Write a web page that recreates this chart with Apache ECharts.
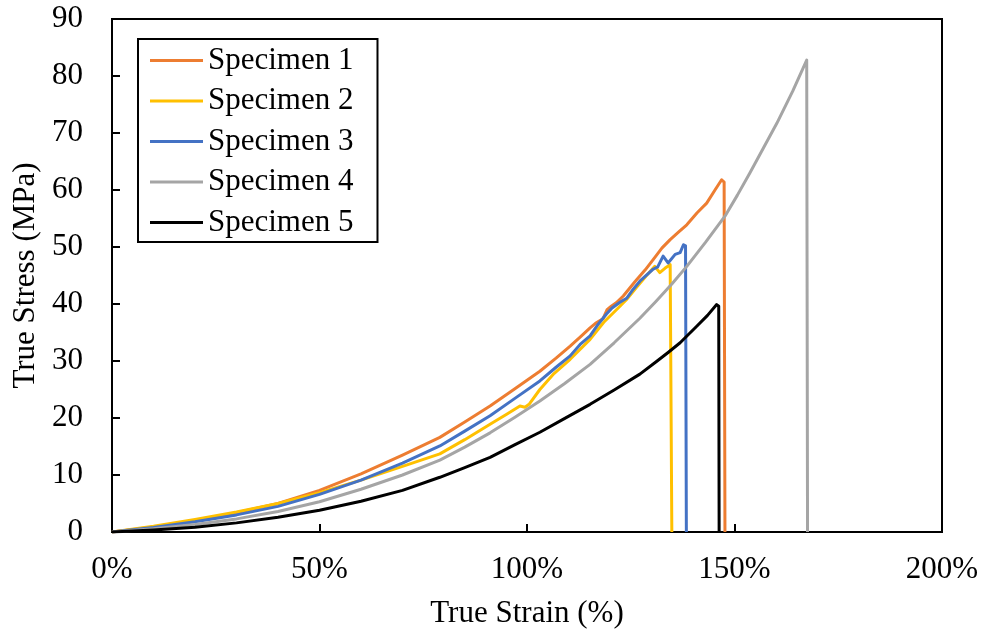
<!DOCTYPE html>
<html>
<head>
<meta charset="utf-8">
<title>True Stress vs True Strain</title>
<script src="https://cdn.jsdelivr.net/npm/echarts@6/dist/echarts.min.js"></script>
<style>
  html, body { margin: 0; padding: 0; background: #fff; }
  #chart { width: 988px; height: 634px; }
</style>
</head>
<body>
<div id="chart"></div>
<script>
// Tensile test results: [true strain (%), true stress (MPa)]
const seriesNames = ['Specimen 1', 'Specimen 2', 'Specimen 3', 'Specimen 4', 'Specimen 5'];
const seriesColors = ['#ED7D31', '#FFC000', '#4472C4', '#A5A5A5', '#000000'];

const specimen1 = [
  [0, 0], [10, 0.9], [20, 2.0], [30, 3.4], [40, 5.0], [50, 7.3], [60, 10.2], [70, 13.5],
  [79, 16.6], [85, 19.3], [91.1, 22.1], [97, 25.1], [103.1, 28.2], [107, 30.5], [110.4, 32.6],
  [113, 34.3], [115.2, 35.8], [116.5, 36.6], [118.3, 37.4], [119.3, 39.0], [120.3, 39.6],
  [121.5, 40.2], [123.2, 41.4], [126, 43.9], [128.5, 46.0], [130.4, 47.8], [132.5, 49.8],
  [134.5, 51.3], [136.5, 52.6], [138.5, 53.9], [141, 56.0], [143.3, 57.7], [145.3, 60.0],
  [146.9, 61.8], [147.5, 61.4], [147.7, 0]
];
const specimen2 = [
  [0, 0], [10, 1.0], [20, 2.2], [30, 3.5], [40, 5.0], [50, 6.9], [60, 9.1], [70, 11.5],
  [79, 13.7], [85, 16.2], [91.1, 18.9], [95, 20.6], [98.3, 22.1], [99.5, 21.9], [100.5, 22.4],
  [103.1, 25.0], [106.5, 27.8], [110.4, 30.3], [115.2, 33.8], [118.5, 36.8], [122.4, 39.6],
  [124, 40.8], [126.5, 43.0], [128.8, 45.0], [130.8, 46.6], [132, 45.5], [133.3, 46.3],
  [134.5, 46.9], [134.9, 0]
];
const specimen3 = [
  [0, 0], [10, 0.8], [20, 1.8], [30, 3.0], [40, 4.5], [50, 6.6], [60, 9.1], [70, 12.1],
  [79, 15.1], [85, 17.7], [91.1, 20.4], [97, 23.4], [103.1, 26.5], [107, 28.9], [110.4, 30.9],
  [112.8, 32.9], [115.2, 34.4], [117.2, 36.5], [119.2, 38.3], [120.5, 39.3], [122.4, 40.3],
  [124, 41.0], [125.6, 42.6], [127.2, 44.0], [129, 45.2], [130.4, 46.1], [131.5, 46.5],
  [132.8, 48.4], [134, 47.2], [135.7, 48.7], [136.9, 49.0], [137.7, 50.4], [138.2, 50.2],
  [138.4, 0]
];
const specimen4 = [
  [0, 0], [10, 0.55], [20, 1.3], [30, 2.3], [40, 3.6], [50, 5.3], [60, 7.5], [70, 10.0],
  [79, 12.6], [85, 14.9], [91.1, 17.4], [97, 20.1], [103.1, 23.0], [109, 26.0], [115.2, 29.4],
  [121, 33.2], [127.2, 37.5], [131, 40.4], [134.9, 43.5], [138.5, 46.6], [143, 50.8],
  [147.7, 55.4], [150.7, 59.1], [153.7, 63.0], [157, 67.4], [160.2, 71.7], [164, 77.3],
  [167.4, 82.8], [167.6, 0]
];
const specimen5 = [
  [0, 0], [10, 0.35], [20, 0.85], [30, 1.6], [40, 2.6], [50, 3.8], [60, 5.4], [70, 7.3],
  [79, 9.6], [85, 11.3], [91.1, 13.1], [97, 15.3], [103.1, 17.5], [109, 19.9], [115.2, 22.4],
  [121, 24.9], [127.2, 27.7], [131.2, 29.9], [134, 31.5], [136.9, 33.2], [140.9, 36.1],
  [143.5, 38.0], [145.7, 39.9], [146.2, 39.6], [146.3, 0]
];

const strainTicks = { min: 0, max: 200, interval: 50 };
const stressTicks = { min: 0, max: 90, interval: 10 };

const allData = [specimen1, specimen2, specimen3, specimen4, specimen5];
const serifFont = "'Liberation Serif', 'Times New Roman', serif";
const ink = '#000000';

const chart = echarts.init(document.getElementById('chart'), null, { renderer: 'canvas' });

chart.setOption({
  animation: false,
  backgroundColor: '#ffffff',
  grid: {
    left: 112, right: 46, top: 19, bottom: 101,
    show: true, borderColor: ink, borderWidth: 2, backgroundColor: 'transparent'
  },
  legend: {
    orient: 'vertical',
    left: 138, top: 39,
    icon: 'rect',
    itemWidth: 53, itemHeight: 3, itemGap: 9.5,
    padding: [6, 24, 4, 12],
    borderColor: ink, borderWidth: 2, backgroundColor: '#ffffff',
    textStyle: { fontFamily: serifFont, fontSize: 31, lineHeight: 31, color: ink },
    data: seriesNames
  },
  xAxis: {
    type: 'value',
    min: strainTicks.min, max: strainTicks.max, interval: strainTicks.interval,
    name: 'True Strain (%)', nameLocation: 'middle', nameGap: 66,
    nameTextStyle: { fontFamily: serifFont, fontSize: 31, color: ink },
    axisLine: { show: true, lineStyle: { color: ink, width: 2 } },
    axisTick: { show: true, inside: true, length: 8, lineStyle: { color: ink, width: 2 } },
    axisLabel: { fontFamily: serifFont, fontSize: 31, color: ink, margin: 22, formatter: '{value}%' },
    splitLine: { show: false }
  },
  yAxis: {
    type: 'value',
    min: stressTicks.min, max: stressTicks.max, interval: stressTicks.interval,
    name: 'True Stress (MPa)', nameLocation: 'middle', nameGap: 68,
    nameTextStyle: { fontFamily: serifFont, fontSize: 31, color: ink },
    axisLine: { show: true, lineStyle: { color: ink, width: 2 } },
    axisTick: { show: true, inside: true, length: 8, lineStyle: { color: ink, width: 2 } },
    axisLabel: { fontFamily: serifFont, fontSize: 31, color: ink, margin: 29 },
    splitLine: { show: false }
  },
  series: allData.map((d, i) => ({
    name: seriesNames[i],
    type: 'line',
    data: d,
    symbol: 'none',
    showSymbol: false,
    smooth: false,
    color: seriesColors[i],
    lineStyle: { color: seriesColors[i], width: 3, join: 'round' }
  }))
});
</script>
</body>
</html>
